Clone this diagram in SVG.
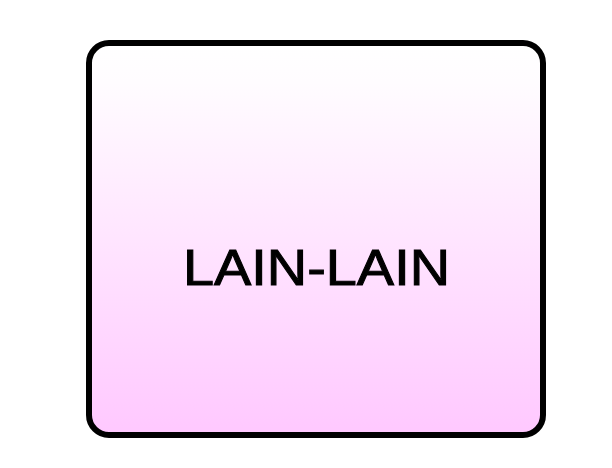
<svg xmlns="http://www.w3.org/2000/svg" width="612" height="468" viewBox="0 0 612 468">
  <defs>
    <linearGradient id="bg" x1="0" y1="0" x2="0" y2="1">
      <stop offset="0" stop-color="#ffffff"/>
      <stop offset="0.1" stop-color="#fffcff"/>
      <stop offset="1" stop-color="#ffc8ff"/>
    </linearGradient>
    <style>
      .box { fill: url(#bg); stroke: #000000; stroke-width: 6; }
      .label { font-family: "Comic Sans MS", "Liberation Sans", "DejaVu Sans", sans-serif; font-size: 50px; fill: #000000; stroke: #000000; stroke-width: 1; }
    </style>
  </defs>
  <rect width="612" height="468" fill="#ffffff"/>
  <g id="node-lain-lain">
    <rect class="box" x="89" y="43" width="454" height="392" rx="20" ry="20"/>
    <text class="label" x="316.5" y="285" text-anchor="middle" textLength="267" lengthAdjust="spacingAndGlyphs">LAIN-LAIN</text>
  </g>
  <g id="connectors"/>
</svg>
